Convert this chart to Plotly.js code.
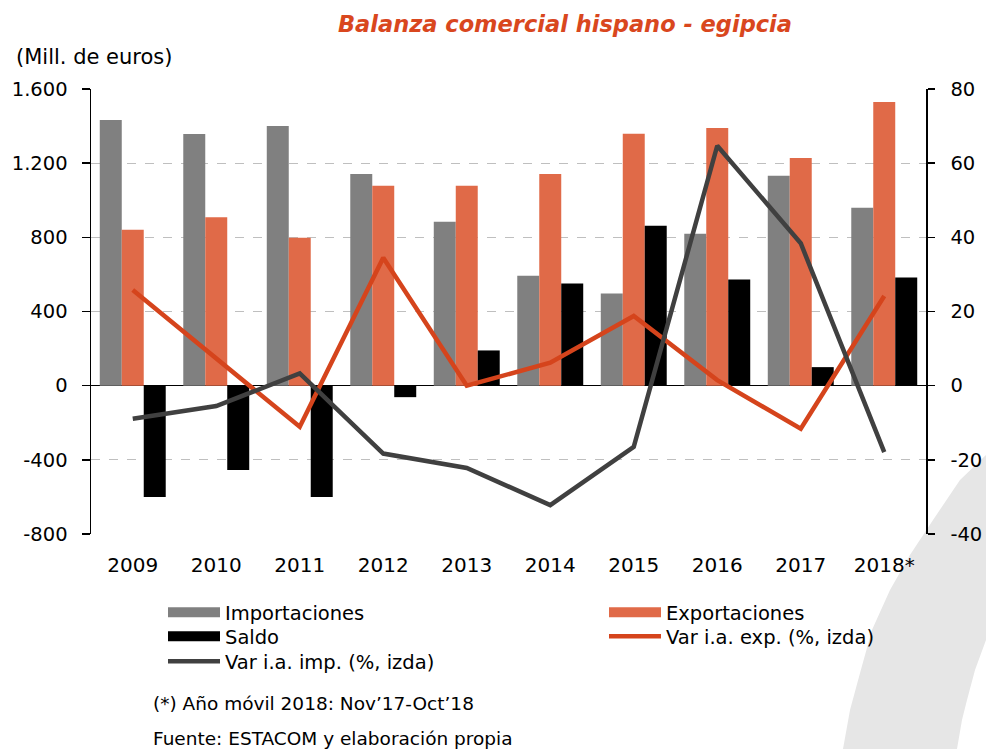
<!DOCTYPE html>
<html>
<head>
<meta charset="utf-8">
<script src="https://cdn.plot.ly/plotly-3.0.1.min.js"></script>
<style>html,body{margin:0;padding:0;background:#fff;}#chart{width:986px;height:749px;}</style>
</head>
<body>
<div id="chart"></div>
<script>
// ---- data ----
const years = ["2009","2010","2011","2012","2013","2014","2015","2016","2017","2018*"];
const importaciones = [1433, 1357, 1400, 1141, 884, 593, 497, 819, 1132, 960];
const exportaciones = [841, 908, 798, 1078, 1078, 1141, 1359, 1390, 1228, 1530];
const saldo = [-600, -455, -600, -62, 190, 551, 862, 573, 100, 584];
const varExp = [25.8, 7.5, -11.1, 34.5, 0, 6.2, 18.8, 1.5, -11.6, 24.2];
const varImp = [-8.9, -5.5, 3.3, -18.3, -22.2, -32.2, -16.5, 64.7, 38.4, -17.9];
const leftTicks = [-800, -400, 0, 400, 800, 1200, 1600];
const leftTickText = ["-800", "-400", "0", "400", "800", "1.200", "1.600"];
const rightTicks = [-40, -20, 0, 20, 40, 60, 80];
const rightTickText = ["-40", "-20", "0", "20", "40", "60", "80"];

// ---- layout geometry ----
const W = 986, H = 749;
const L = 91, R = 926, T = 89, B = 534;
const px = x => (x - L) / (R - L);
const py = y => (B - y) / (B - T);
const FONT = "DejaVu Sans, Liberation Sans, Arial, sans-serif";

const C_IMP = "#808080", C_EXP = "#E06A48", C_SAL = "#000000", C_VEXP = "#D5441C", C_VIMP = "#404040";

const traces = [
  {type: "bar", name: "Importaciones", x: years, y: importaciones, marker: {color: C_IMP}, showlegend: false},
  {type: "bar", name: "Exportaciones", x: years, y: exportaciones, marker: {color: C_EXP}, showlegend: false},
  {type: "bar", name: "Saldo", x: years, y: saldo, marker: {color: C_SAL}, showlegend: false},
  {type: "scatter", mode: "lines", name: "Var i.a. exp. (%, izda)", x: years, y: varExp, yaxis: "y2",
   line: {color: C_VEXP, width: 4.5}, legend: "legend4"},
  {type: "scatter", mode: "lines", name: "Var i.a. imp. (%, izda)", x: years, y: varImp, yaxis: "y2",
   line: {color: C_VIMP, width: 4.5}, legend: "legend5"},
  // legend keys for the bar series (wide rectangular swatches, no data drawn)
  {type: "scatter", mode: "lines", name: "Importaciones", x: [null], y: [null], line: {color: C_IMP, width: 10},
   legend: "legend", hoverinfo: "skip"},
  {type: "scatter", mode: "lines", name: "Exportaciones", x: [null], y: [null], line: {color: C_EXP, width: 10},
   legend: "legend2", hoverinfo: "skip"},
  {type: "scatter", mode: "lines", name: "Saldo", x: [null], y: [null], line: {color: C_SAL, width: 10},
   legend: "legend3", hoverinfo: "skip"}
];

// decorative curved band at bottom right
const band = [[1000,440],[986,455],[960,480],[933,520],[910,555],[890,590],[872,630],[860,673],[850,710],[843,749],[841,760],
              [955,760],[957,749],[962,720],[967,700],[975,670],[986,640],[1000,625]];
const bandPath = "M" + band.map(p => px(p[0]).toFixed(4) + "," + py(p[1]).toFixed(4)).join("L") + "Z";

const legendCommon = {orientation: "v", xanchor: "left", yanchor: "top", traceorder: "normal", tracegroupgap: 0,
                      itemwidth: 52, font: {family: FONT, size: 19.5}, bgcolor: "rgba(0,0,0,0)",
                      borderwidth: 0, itemclick: false, itemdoubleclick: false};
const leg = (x, y) => Object.assign({}, legendCommon, {x: px(x), y: py(y)});

const layout = {
  width: W, height: H,
  margin: {l: L, r: W - R, t: T, b: H - B, autoexpand: false},
  paper_bgcolor: "#ffffff",
  plot_bgcolor: "rgba(0,0,0,0)",
  font: {family: FONT, size: 19, color: "#000"},
  title: {text: "<b><i>Balanza comercial hispano - egipcia</i></b>", x: 565 / W, xanchor: "center",
          y: 1 - 24 / H, yanchor: "middle", font: {family: FONT, size: 22.5, color: "#D9471E"}},
  barmode: "group", bargap: 0.21, bargroupgap: 0,
  xaxis: {type: "category", showline: false, ticks: "", showgrid: false, zeroline: false,
          tickfont: {family: FONT, size: 20}, ticklabelstandoff: 17},
  yaxis: {range: [-800, 1600], tickvals: leftTicks, ticktext: leftTickText, showline: true, linecolor: "#000", linewidth: 1.5,
          ticks: "outside", ticklen: 8, tickcolor: "#000", tickwidth: 1.5,
          showgrid: true, gridcolor: "#BFBFBF", griddash: "dash", gridwidth: 1.3,
          zeroline: true, zerolinecolor: "#000", zerolinewidth: 1.5,
          tickfont: {family: FONT, size: 19.5}, ticklabelstandoff: 10},
  yaxis2: {range: [-40, 80], tickvals: rightTicks, ticktext: rightTickText, overlaying: "y", side: "right",
           showline: true, linecolor: "#000", linewidth: 1.5,
           ticks: "outside", ticklen: 7, tickcolor: "#000", tickwidth: 1.5, showgrid: false, zeroline: false,
           tickfont: {family: FONT, size: 19.5}, ticklabelstandoff: 12},
  legend: leg(163, 593),
  legend2: leg(604, 593),
  legend3: leg(163, 617),
  legend4: leg(604, 617),
  legend5: leg(163, 642),
  showlegend: true,
  shapes: [{type: "path", xref: "paper", yref: "paper", path: bandPath, fillcolor: "#E6E6E6", line: {width: 0}, layer: "below"}],
  annotations: [
    {text: "(Mill. de euros)", xref: "paper", yref: "paper", x: px(14), y: py(57), xanchor: "left", yanchor: "middle",
     showarrow: false, font: {family: FONT, size: 21}},
    {text: "(*) Año móvil 2018: Nov’17-Oct’18", xref: "paper", yref: "paper", x: px(151), y: py(703), xanchor: "left", yanchor: "middle",
     showarrow: false, font: {family: FONT, size: 18.5}},
    {text: "Fuente: ESTACOM y elaboración propia", xref: "paper", yref: "paper", x: px(151), y: py(738), xanchor: "left", yanchor: "middle",
     showarrow: false, font: {family: FONT, size: 18.5}}
  ]
};

Plotly.newPlot("chart", traces, layout, {displayModeBar: false, staticPlot: true});
</script>
</body>
</html>
